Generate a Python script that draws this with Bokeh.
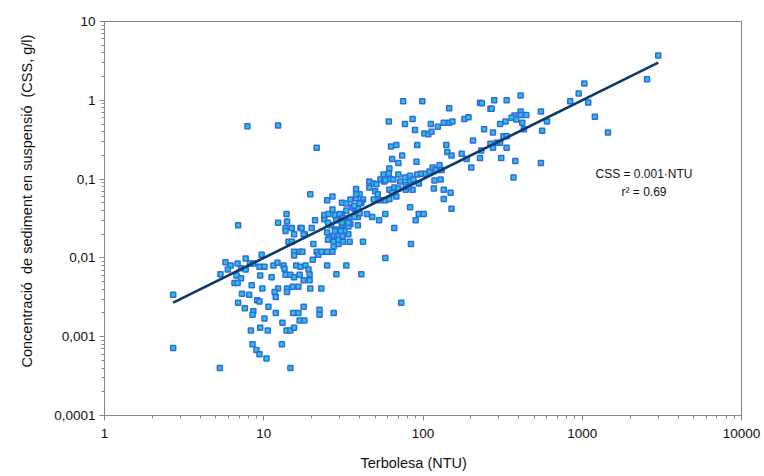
import numpy as np
from bokeh.plotting import figure
from bokeh.models import FixedTicker, CustomJSTickFormatter, Label, Range1d, Title
from bokeh.embed import file_html
from bokeh.resources import INLINE

# Turbidity (NTU) and suspended sediment concentration (CSS, g/l)
ntu = [
    2.7, 2.7, 7.9, 12.3, 6.9, 13.9, 12.3, 14, 13.7, 15, 15.5, 17, 5.3, 14.7, 5.75, 6.2, 5.95, 6.85, 7.7, 7.2,
    7.7, 8.2, 8.6, 9.7, 5.35, 6.75, 7.2, 6.55, 6.85, 9.4, 10.1, 9.5, 8.4, 7.3, 8.1, 9.8, 11.2, 11.5, 12.2, 13.3,
    13.5, 13.7, 14.7, 15.5, 16.8, 16, 17, 15.5, 15.5, 16.8, 14.3, 15, 13.7, 12.3, 11.7, 11.9, 14, 14, 15.2, 16.5,
    6.9, 7.6, 8.6, 8.5, 9.1, 9.4, 10.7, 10.1, 11.9, 13.1, 15.3, 16.5, 16.8, 8.3, 9.5, 10.6, 13.9, 14.7, 15.5, 8.5,
    9.0, 9.4, 10.4, 13.0, 75, 99, 146, 228, 265, 61, 77, 86, 89, 112, 124, 135, 146, 153, 182, 193,
    242, 102, 108, 113, 206, 21.5, 63, 68, 92, 140, 142, 151, 175, 74, 64, 70, 91, 188, 228, 232,
    201, 265, 61.5, 56.5, 70, 83, 92, 97.5, 104, 110, 115, 120, 127, 131, 54, 57, 62, 65, 72, 77,
    83, 87, 94, 46, 46, 49, 51, 61.5, 66, 70, 78, 86, 78, 81, 118, 129, 117, 135, 149, 135,
    151, 83, 94, 101, 90, 66, 38, 50, 52, 49, 54, 58, 61.5, 68, 64, 58, 53, 48, 44.5, 39,
    39, 34, 32, 31, 28.5, 26.5, 25, 24, 24, 25.5, 27, 25, 27, 31, 33, 35, 38, 40, 42, 41,
    37, 36, 33, 31, 29.5, 28.5, 32, 35, 37, 40, 35, 33, 30.5, 29.5, 27, 34, 19.6, 21, 17.3, 20,
    18.1, 58, 61, 38, 17.8, 20.5, 25.8, 27.5, 29.5, 29.5, 27.5, 31.3, 34.6, 42, 84, 21.5, 22, 23, 25, 27,
    20.3, 58, 18.3, 19.1, 25, 33, 19.4, 28.6, 41, 17.8, 19.4, 19.6, 23, 73, 17.8, 22.4, 22.4, 27.5, 18, 17.5,
    31.5, 25.3, 28, 31, 25.3, 28, 30, 31.5, 34, 39, 37, 40, 3000, 2550, 1030, 950, 840, 1090, 1200, 1450,
    550, 600, 560, 550, 410, 280, 335, 270, 234, 375, 360, 410, 445, 410, 385, 420, 430, 330, 305, 275,
    320, 335, 305, 290, 275, 335, 310, 380, 370,
]
css = [
    0.0034, 0.00072, 0.47, 0.48, 0.026, 0.036, 0.028, 0.029, 0.024, 0.024, 0.020, 0.024, 0.00040, 0.00040, 0.0088, 0.0080, 0.0071, 0.0085, 0.0098, 0.0074,
    0.0071, 0.0085, 0.0085, 0.011, 0.0062, 0.0060, 0.0055, 0.0048, 0.0048, 0.0077, 0.0077, 0.0060, 0.0045, 0.0035, 0.0034, 0.0041, 0.0057, 0.0080, 0.0087, 0.0080,
    0.0073, 0.0061, 0.0061, 0.0057, 0.0061, 0.0080, 0.0077, 0.012, 0.0107, 0.012, 0.016, 0.016, 0.022, 0.0041, 0.0037, 0.0032, 0.0041, 0.0037, 0.0043, 0.0043,
    0.0027, 0.0023, 0.0021, 0.0019, 0.0029, 0.0028, 0.0024, 0.0017, 0.0020, 0.0015, 0.0020, 0.0020, 0.0016, 0.0012, 0.0013, 0.0012, 0.0012, 0.0012, 0.0013, 0.00080,
    0.00068, 0.00060, 0.00053, 0.00080, 0.97, 0.97, 0.79, 0.93, 0.78, 0.54, 0.50, 0.58, 0.42, 0.50, 0.46, 0.52, 0.52, 0.54, 0.58, 0.61,
    0.43, 0.38, 0.37, 0.40, 0.31, 0.25, 0.26, 0.27, 0.27, 0.27, 0.22, 0.20, 0.21, 0.20, 0.18, 0.16, 0.166, 0.18, 0.185, 0.23,
    0.14, 0.28, 0.136, 0.114, 0.114, 0.11, 0.114, 0.117, 0.117, 0.125, 0.14, 0.13, 0.15, 0.13, 0.099, 0.093, 0.10, 0.099, 0.093, 0.105,
    0.093, 0.099, 0.088, 0.093, 0.078, 0.088, 0.086, 0.073, 0.078, 0.076, 0.073, 0.073, 0.085, 0.080, 0.096, 0.099, 0.076, 0.073, 0.067, 0.056,
    0.042, 0.044, 0.036, 0.036, 0.030, 0.024, 0.075, 0.070, 0.064, 0.055, 0.054, 0.054, 0.056, 0.060, 0.067, 0.036, 0.030, 0.033, 0.036, 0.033,
    0.026, 0.020, 0.022, 0.026, 0.023, 0.026, 0.021, 0.031, 0.035, 0.036, 0.041, 0.054, 0.060, 0.050, 0.049, 0.055, 0.057, 0.064, 0.055, 0.050,
    0.042, 0.044, 0.040, 0.034, 0.035, 0.030, 0.030, 0.033, 0.033, 0.037, 0.027, 0.026, 0.022, 0.019, 0.019, 0.025, 0.064, 0.030, 0.024, 0.024,
    0.020, 0.097, 0.118, 0.064, 0.020, 0.015, 0.018, 0.016, 0.015, 0.017, 0.014, 0.019, 0.016, 0.016, 0.015, 0.012, 0.011, 0.012, 0.012, 0.012,
    0.0095, 0.010, 0.0080, 0.0071, 0.0080, 0.0080, 0.0062, 0.0062, 0.0062, 0.0052, 0.0052, 0.0041, 0.0041, 0.0027, 0.0024, 0.0022, 0.0019, 0.0020, 0.0016, 0.012,
    0.016, 0.017, 0.022, 0.028, 0.028, 0.035, 0.036, 0.032, 0.028, 0.042, 0.046, 0.049, 3.7, 1.85, 1.63, 1.22, 0.97, 0.94, 0.62, 0.39,
    0.72, 0.54, 0.41, 0.16, 1.15, 1.0, 1.0, 0.78, 0.92, 0.64, 0.60, 0.72, 0.65, 0.65, 0.57, 0.52, 0.43, 0.54, 0.50, 0.39,
    0.35, 0.35, 0.29, 0.29, 0.25, 0.25, 0.185, 0.17, 0.105,
]

# Fitted relation shown on the chart
fit_coef = 0.001
fit_text = "CSS = 0.001\u00b7NTU"
r2_text = "r\u00b2 = 0.69"

x_ticks = [1, 10, 100, 1000, 10000]
y_ticks = [0.0001, 0.001, 0.01, 0.1, 1, 10]

x_label = "Terbolesa (NTU)"
y_label = "Concentraci\u00f3 \u00a0de sediment en suspensi\u00f3 \u00a0(CSS, g/l)"

FONT = "Liberation Sans"
AXIS_GREY = "#868686"

p = figure(
    frame_width=637, frame_height=394,
    x_axis_type="log", y_axis_type="log",
    x_range=Range1d(1, 10000), y_range=Range1d(0.0001, 10),
    output_backend="svg", toolbar_location=None,
    min_border_left=104, min_border_right=23, min_border_top=21, min_border_bottom=61,
    background_fill_color="white", border_fill_color="white",
)
p.xgrid.visible = False
p.ygrid.visible = False
p.outline_line_color = AXIS_GREY
p.outline_line_width = 1

x_minor = [m * 10 ** k for k in range(0, 4) for m in range(2, 10)]
y_minor = [m * 10.0 ** k for k in range(-4, 1) for m in range(2, 10)]
p.xaxis.ticker = FixedTicker(ticks=x_ticks, minor_ticks=x_minor)
p.yaxis.ticker = FixedTicker(ticks=y_ticks, minor_ticks=y_minor)

p.yaxis.formatter = CustomJSTickFormatter(code="""
const e = Math.round(Math.log10(tick));
if (e >= 0) { return String(Math.round(Math.pow(10, e))); }
return "0," + "0".repeat(-e - 1) + "1";
""")
p.xaxis.formatter = CustomJSTickFormatter(code="""
const e = Math.round(Math.log10(tick));
return String(Math.round(Math.pow(10, e)));
""")

for ax in (p.xaxis[0], p.yaxis[0]):
    ax.axis_line_color = AXIS_GREY
    ax.major_tick_line_color = AXIS_GREY
    ax.minor_tick_line_color = AXIS_GREY
    ax.major_tick_out = 5
    ax.major_tick_in = 0
    ax.minor_tick_out = 3
    ax.minor_tick_in = 0
    ax.major_label_text_font = FONT
    ax.major_label_text_font_size = "13.5px"
    ax.major_label_text_color = "#111111"
p.yaxis.major_label_standoff = 4
p.xaxis.major_label_standoff = 8

# Scatter of measurements
p.scatter(ntu, css, marker="square", size=5,
          line_color="#2f6ae6", line_width=1.5, fill_color="#2cc3cf")

# Regression line
xs = np.array([min(ntu), max(ntu)])
p.line(xs, fit_coef * xs, line_color="#0d3a66", line_width=2.6)

# Annotations
p.add_layout(Label(x=539.5, y=242, x_units="screen", y_units="screen", text=fit_text,
                   text_align="center", text_baseline="middle",
                   text_font=FONT, text_font_size="12px", text_color="#111111"))
p.add_layout(Label(x=539.5, y=224, x_units="screen", y_units="screen", text=r2_text,
                   text_align="center", text_baseline="middle",
                   text_font=FONT, text_font_size="12px", text_color="#111111"))

# Axis titles
p.add_layout(Title(text=y_label, align="left", offset=48, standoff=33,
                   text_font=FONT, text_font_size="14.5px", text_font_style="normal",
                   text_color="#111111"), "left")
p.add_layout(Title(text=x_label, align="left", offset=256, standoff=24,
                   text_font=FONT, text_font_size="14.5px", text_font_style="normal",
                   text_color="#111111"), "below")

open("out.html", "w").write(file_html(p, INLINE))
